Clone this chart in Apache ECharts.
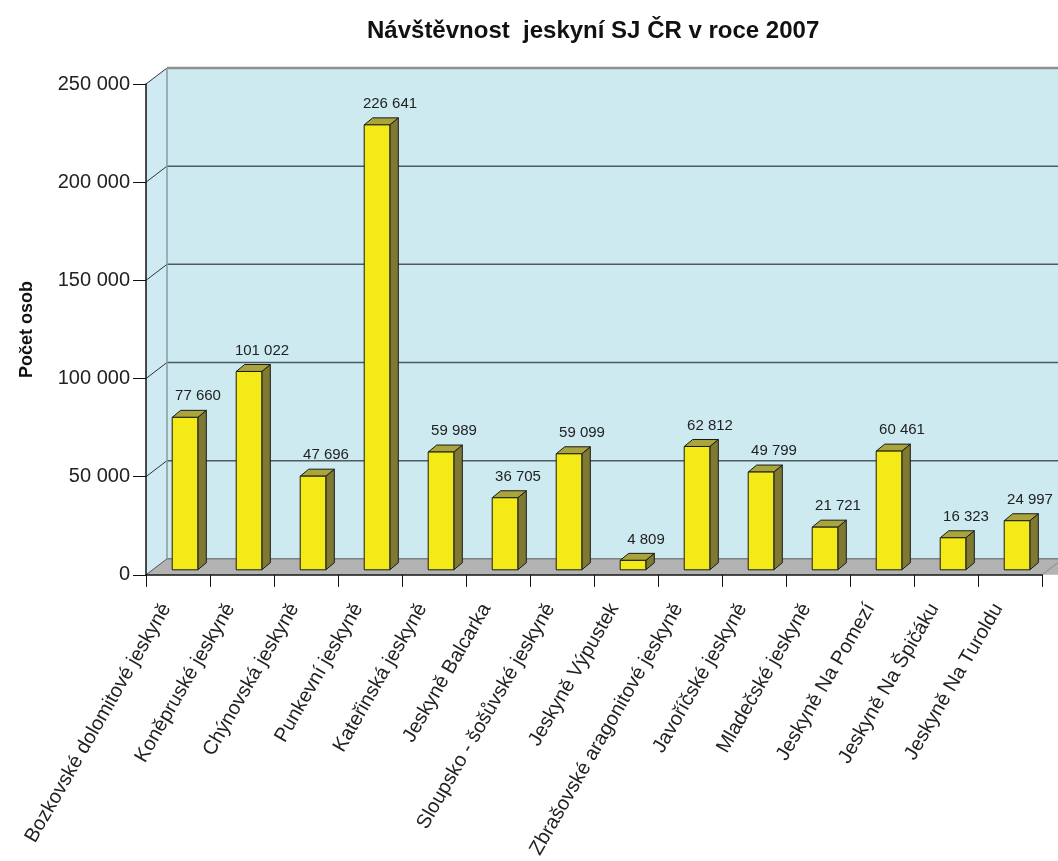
<!DOCTYPE html>
<html><head><meta charset="utf-8">
<script src="https://cdn.jsdelivr.net/npm/echarts@6/dist/echarts.min.js"></script>
<style>html,body{margin:0;padding:0;background:#fff}#c{width:1058px;height:861px}</style>
</head><body><div id="c"></div>
<script>
const categories = [
  'Bozkovské dolomitové jeskyně', 'Koněpruské jeskyně', 'Chýnovská jeskyně', 'Punkevní jeskyně',
  'Kateřinská jeskyně', 'Jeskyně Balcarka', 'Sloupsko - šošůvské jeskyně', 'Jeskyně Výpustek',
  'Zbrašovské aragonitové jeskyně', 'Javoříčské jeskyně', 'Mladečské jeskyně', 'Jeskyně Na Pomezí',
  'Jeskyně Na Špičáku', 'Jeskyně Na Turoldu'
];
const visitors = [77660, 101022, 47696, 226641, 59989, 36705, 59099, 4809, 62812, 49799, 21721, 60461, 16323, 24997];
const yTicks = [0, 50000, 100000, 150000, 200000, 250000];
const yMin = 0, yMax = 250000, yInterval = 50000;
const titleText = 'Návštěvnost  jeskyní SJ ČR v roce 2007';
const yName = 'Počet osob';

function fmt(v) { return String(v).replace(/\B(?=(\d{3})+(?!\d))/g, ' '); }

const FONT = '"Liberation Sans", Arial, Helvetica, sans-serif';
const WALL_DX = 21, WALL_DY = -16;
const BAR_OX = 7, BAR_OY = -5, BAR_DX = 8.5, BAR_DY = -7;
const LABEL_OX = 20, LABEL_OY = -21;

function renderWall(params, api) {
  const cs = params.coordSys;
  const L = cs.x, T = cs.y, R = cs.x + cs.width, B = cs.y + cs.height;
  const dx = WALL_DX, dy = WALL_DY;
  const ch = [];
  ch.push({type: 'polygon', shape: {points: [[L, T], [L + dx, T + dy], [L + dx, B + dy], [L, B]]}, style: {fill: '#cfeaf2'}});
  ch.push({type: 'rect', shape: {x: L + dx, y: T + dy, width: cs.width + 40, height: cs.height}, style: {fill: '#cdeaf1'}});
  ch.push({type: 'polygon', shape: {points: [[L, B], [L + dx, B + dy], [R + dx + 40, B + dy], [R + 40, B]]}, style: {fill: '#b3b3b3'}});
  ch.push({type: 'line', shape: {x1: L + dx, y1: B + dy, x2: R + dx + 40, y2: B + dy}, style: {stroke: '#7d8285', lineWidth: 1.5}});
  ch.push({type: 'line', shape: {x1: R, y1: B, x2: R + dx, y2: B + dy}, style: {stroke: '#8a8a8a', lineWidth: 1}});
  yTicks.forEach(function (v) {
    const y = api.coord([0, v])[1];
    if (v > 0) {
      ch.push({type: 'line', shape: {x1: L, y1: y, x2: L + dx, y2: y + dy}, style: {stroke: '#333', lineWidth: 1}});
      ch.push({type: 'line', shape: {x1: L + dx, y1: y + dy, x2: R + dx + 40, y2: y + dy},
        style: {stroke: v === yMax ? '#8f8f8f' : '#4d5a5e', lineWidth: v === yMax ? 2.5 : 1.5}});
    }
  });
  ch.push({type: 'line', shape: {x1: L + dx, y1: T + dy, x2: L + dx, y2: B + dy}, style: {stroke: '#8a9a9e', lineWidth: 1.5}});
  ch.push({type: 'line', shape: {x1: L, y1: B, x2: L + dx, y2: B + dy}, style: {stroke: '#555', lineWidth: 1}});
  return {type: 'group', children: ch};
}

function renderBar(params, api) {
  const idx = api.value(0), val = api.value(1);
  const top = api.coord([idx, val]);
  const base = api.coord([idx, 0]);
  const bw = api.size([1, 0])[0];
  const w = bw * 0.4;
  const x0 = top[0] + BAR_OX - w / 2, x1 = x0 + w;
  const yT = top[1] + BAR_OY, yB = base[1] + BAR_OY;
  const stroke = '#1a1a1a';
  return {type: 'group', children: [
    {type: 'polygon', shape: {points: [[x1, yB], [x1 + BAR_DX, yB + BAR_DY], [x1 + BAR_DX, yT + BAR_DY], [x1, yT]]},
      style: {fill: '#7e7a32', stroke: stroke, lineWidth: 1}},
    {type: 'polygon', shape: {points: [[x0, yT], [x0 + BAR_DX, yT + BAR_DY], [x1 + BAR_DX, yT + BAR_DY], [x1, yT]]},
      style: {fill: '#aaa43c', stroke: stroke, lineWidth: 1}},
    {type: 'rect', shape: {x: x0, y: yT, width: w, height: yB - yT},
      style: {fill: '#f3ea17', stroke: stroke, lineWidth: 1}},
    {type: 'text', x: top[0] + LABEL_OX, y: yT + LABEL_OY,
      style: {text: fmt(val), fill: '#222', fontSize: 15, fontFamily: FONT, align: 'center', verticalAlign: 'middle'}}
  ]};
}

const chart = echarts.init(document.getElementById('c'), null, {renderer: 'canvas'});
chart.setOption({
  animation: false,
  backgroundColor: '#fff',
  title: {text: titleText, left: 362, top: 14,
    textStyle: {fontSize: 24, fontWeight: 'bold', color: '#111', fontFamily: FONT}},
  grid: {left: 146, top: 84, width: 896, height: 493},
  xAxis: {
    type: 'category', data: categories, z: 10,
    axisLine: {show: true, lineStyle: {color: '#111', width: 1.5}},
    axisTick: {show: true, length: 12, interval: 0, lineStyle: {color: '#111'}},
    axisLabel: {interval: 0, rotate: 60, margin: 30, fontSize: 20, color: '#222', fontFamily: FONT,
      verticalAlign: 'bottom', padding: [0, 6, 0, 0]},
    splitLine: {show: false}
  },
  yAxis: {
    type: 'value', min: yMin, max: yMax, interval: yInterval, z: 10,
    axisLine: {show: true, lineStyle: {color: '#111', width: 1.5}},
    axisTick: {show: true, length: 13, lineStyle: {color: '#111'}},
    axisLabel: {formatter: fmt, fontSize: 20, color: '#222', margin: 16, fontFamily: FONT},
    splitLine: {show: false},
    name: yName, nameLocation: 'middle', nameRotate: 90, nameGap: 110,
    nameTextStyle: {fontSize: 18, fontWeight: 'bold', color: '#111', fontFamily: FONT}
  },
  series: [
    {type: 'custom', z: 1, renderItem: renderWall, data: [[0, 0]], silent: true},
    {type: 'custom', z: 3, renderItem: renderBar, data: visitors.map(function (v, i) { return [i, v]; })}
  ]
});
</script>
</body></html>
